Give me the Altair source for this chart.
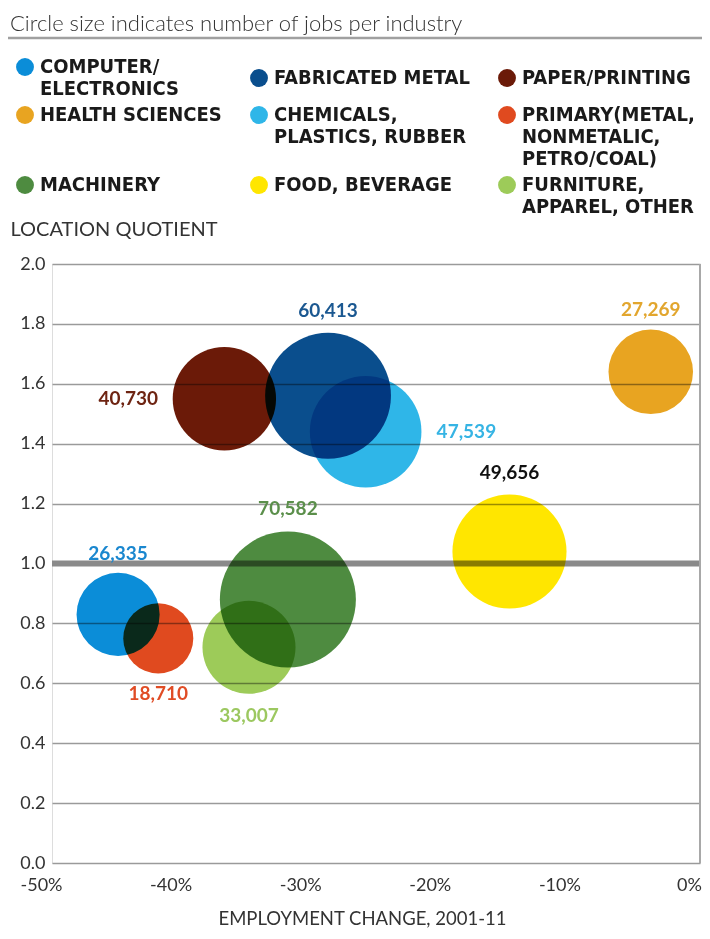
import altair as alt
import pandas as pd

# ---- data ----
industries = [
    "COMPUTER/|ELECTRONICS",
    "FABRICATED METAL",
    "PAPER/PRINTING",
    "HEALTH SCIENCES",
    "CHEMICALS,|PLASTICS, RUBBER",
    "PRIMARY(METAL,|NONMETALIC,|PETRO/COAL)",
    "MACHINERY",
    "FOOD, BEVERAGE",
    "FURNITURE,|APPAREL, OTHER",
]
employment_change = [-44.9, -28.7, -36.7, -3.8, -25.8, -41.8, -31.8, -14.7, -34.8]
location_quotient = [0.83, 1.56, 1.55, 1.64, 1.44, 0.75, 0.88, 1.04, 0.72]
jobs = [26335, 60413, 40730, 27269, 47539, 18710, 70582, 49656, 33007]
label_side = ["above", "above", "left", "above", "right", "below", "above", "above", "below"]

fill_colors = ["#0B8DD8", "#0A4E8D", "#6B1A08", "#E8A421", "#2FB6E8",
               "#E04A1F", "#4E8B40", "#FFE600", "#9DCB59"]
label_colors = ["#1A87CF", "#1B5891", "#6E2412", "#E2A62E", "#36B4E4",
                "#E04C25", "#5B8F4B", "#111111", "#9CC860"]

x_ticks = [-50, -40, -30, -20, -10, 0]
y_ticks = [0.0, 0.2, 0.4, 0.6, 0.8, 1.0, 1.2, 1.4, 1.6, 1.8, 2.0]

# ---- layout constants ----
W, H = 648, 599
PX_PER_X = W / 50.0
PX_PER_Y = H / 2.0
SIZE_DOMAIN_MAX = 100000
SIZE_RANGE_MAX = 26215  # px^2 of circle area for 100,000 jobs

NUM_FONT = "Lato"
LEG_FONT = "Liberation Sans Narrow, DejaVu Sans Condensed, sans-serif"

df = pd.DataFrame({
    "industry": industries,
    "ec": employment_change,
    "lq": location_quotient,
    "jobs": jobs,
    "side": label_side,
    "lcolor": label_colors,
})

color_scale = alt.Scale(domain=industries, range=fill_colors)
x_scale = alt.Scale(domain=[-50, 0], nice=False, zero=False)
y_scale = alt.Scale(domain=[0, 2], nice=False)

base = alt.Chart(df)

# thick reference line at 1.0
ref_line = alt.Chart(pd.DataFrame({"v": [1.0]})).mark_rule(
    color="#8a8a8a", strokeWidth=6
).encode(y=alt.Y("v:Q", scale=y_scale))

# right frame line at 0%
frame = alt.Chart(pd.DataFrame({"x": [0], "y0": [0.0], "y1": [2.0]})).mark_rule(
    color="#a8a8a8", strokeWidth=2
).encode(x=alt.X("x:Q", scale=x_scale), y=alt.Y("y0:Q", scale=y_scale), y2="y1:Q")

# title underline
underline = alt.Chart(pd.DataFrame({"a": [0]})).mark_rule(
    color="#a0a0a0", strokeWidth=2.5
).encode(x=alt.value(-44), x2=alt.value(W + 2), y=alt.value(-226))

bubbles = base.mark_circle(opacity=1, blend="multiply").encode(
    x=alt.X(
        "ec:Q", scale=x_scale,
        axis=alt.Axis(
            values=x_ticks, labelExpr="datum.value + '%'", grid=False, domain=False,
            ticks=False, tickOffset=-11, labelFlush=False, labelPadding=13,
            labelFontSize=18, labelFont=NUM_FONT, labelColor="#333333",
            title="EMPLOYMENT CHANGE, 2001-11", titleFont=NUM_FONT,
            titleFontSize=18.5, titleFontWeight="normal", titleColor="#333333",
            titlePadding=15, titleX=W / 2 - 14,
        ),
    ),
    y=alt.Y(
        "lq:Q", scale=y_scale,
        axis=alt.Axis(
            values=y_ticks, format=".1f", grid=True, gridColor="#9a9a9a",
            gridWidth=1.5, domain=False, ticks=False, labelPadding=7,
            labelFontSize=18, labelFont=NUM_FONT, labelColor="#333333",
            title="LOCATION QUOTIENT", titleAngle=0, titleAlign="left",
            titleBaseline="middle", titleX=-42, titleY=-35, titleFont=NUM_FONT,
            titleFontSize=20, titleFontWeight="normal", titleColor="#333333",
        ),
    ),
    size=alt.Size("jobs:Q", scale=alt.Scale(domain=[0, SIZE_DOMAIN_MAX],
                                             range=[0, SIZE_RANGE_MAX]), legend=None),
    color=alt.Color(
        "industry:N", scale=color_scale, sort=industries,
        legend=alt.Legend(
            title=None, orient="none", legendX=-37, legendY=-207, columns=3,
            direction="horizontal",
            symbolType="circle", symbolSize=320, symbolOpacity=1,
            symbolStrokeWidth=0,
            labelExpr="split(datum.label, '|')", labelFont=LEG_FONT,
            labelFontSize=20, labelFontWeight="bold", labelColor="#1a1a1a",
            labelLimit=300, labelOffset=5, columnPadding=27, rowPadding=6,
            labelBaseline="middle",
        ),
    ),
)

label_base = base.transform_calculate(
    r=f"sqrt(datum.jobs * {SIZE_RANGE_MAX} / {SIZE_DOMAIN_MAX} / PI)"
).transform_calculate(
    lx=f"datum.side == 'left' ? datum.ec - (datum.r + 8) / {PX_PER_X} : "
       f"(datum.side == 'right' ? datum.ec + (datum.r + 8) / {PX_PER_X} : datum.ec)",
    ly=f"datum.side == 'above' ? datum.lq + (datum.r + 14) / {PX_PER_Y} : "
       f"(datum.side == 'below' ? datum.lq - (datum.r + 16) / {PX_PER_Y} : datum.lq)",
)

def label_layer(cond, align):
    return label_base.transform_filter(cond).mark_text(
        font=NUM_FONT, fontSize=19, fontWeight="bold", align=align, baseline="middle"
    ).encode(
        x=alt.X("lx:Q", scale=x_scale),
        y=alt.Y("ly:Q", scale=y_scale),
        text=alt.Text("jobs:Q", format=","),
        color=alt.Color("lcolor:N", scale=None),
    )

labels_c = label_layer("datum.side == 'above' || datum.side == 'below'", "center")
labels_l = label_layer("datum.side == 'left'", "right")
labels_r = label_layer("datum.side == 'right'", "left")

chart = alt.layer(
    ref_line, frame, underline, bubbles, labels_c, labels_l, labels_r
).properties(
    width=W, height=H,
    autosize=alt.AutoSizeParams(type="none"),
    padding={"left": 44, "top": 256, "right": 2, "bottom": 68},
    title=alt.TitleParams(
        "Circle size indicates number of jobs per industry",
        anchor="start", frame="group", dx=-42, offset=1,
        font=NUM_FONT, fontSize=22, fontWeight=300, color="#333333",
    ),
).configure_view(stroke=None).configure(background="white")

chart.save("out.html", embed_options={"renderer": "svg", "actions": False})
